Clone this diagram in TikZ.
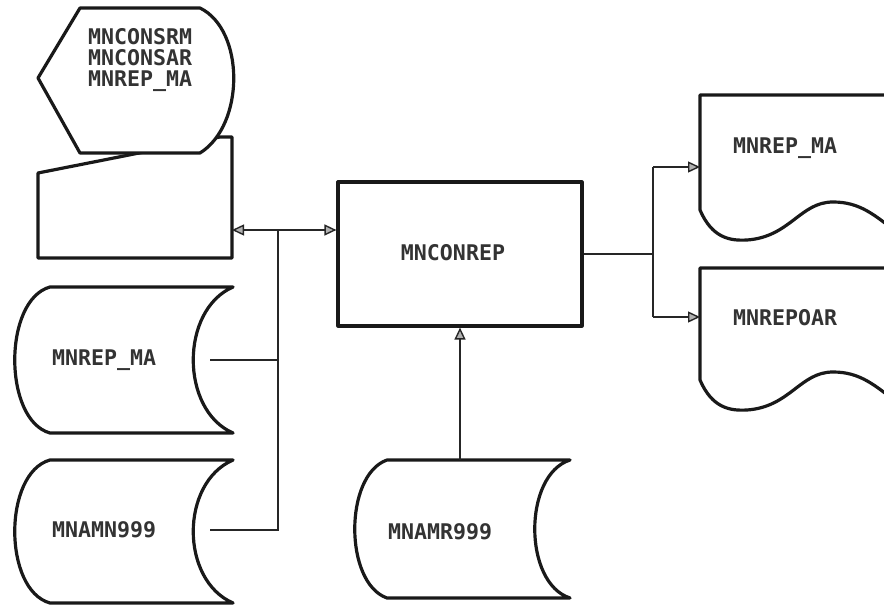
\documentclass[tikz,border=0pt]{standalone}
\usepackage{fontspec}
\setmonofont{DejaVu Sans Mono}
\usetikzlibrary{arrows.meta}
\begin{document}
\begin{tikzpicture}[x=1pt,y=-1pt,
  outl/.style={draw=black!90, line width=3.2pt, fill=white, line join=round},
  conn/.style={draw=black!85, line width=1.9pt},
  arr/.style={conn, -{Triangle[length=12pt,width=11pt,fill=gray!60,line width=1.4pt]}},
  lbl/.style={font=\fontsize{21.6}{21}\selectfont\ttfamily\bfseries, text=black!80, inner sep=0pt, align=left}]
\useasboundingbox (0,0) rectangle (884,607);
\clip (0,0) rectangle (884,607);

% manual input
\draw[outl] (38,173) -- (220,137) -- (232,137) -- (232,258) -- (38,258) -- cycle;
\coordinate (mi-e) at (232,230);

% display
\draw[outl] (80,8) -- (200,8) .. controls (245,30) and (245,125) .. (200,153) -- (80,153) -- (38,78) -- cycle;
\node[lbl, anchor=north west] (disp) at (88,28) {MNCONSRM\\MNCONSAR\\MNREP\_MA};

% stored data 1
\draw[outl] (233,287) -- (50,287) .. controls (3,300) and (3,420) .. (50,433) -- (233,433) .. controls (180,410) and (180,310) .. (233,287) -- cycle;
\node[lbl, anchor=west] (sd1) at (52,360) {MNREP\_MA};
\coordinate (sd1-e) at (210,360);

% stored data 2
\draw[outl] (233,460) -- (50,460) .. controls (3,473) and (3,590) .. (50,603) -- (233,603) .. controls (180,580) and (180,483) .. (233,460) -- cycle;
\node[lbl, anchor=west] (sd2) at (52,530) {MNAMN999};
\coordinate (sd2-e) at (210,530);

% process
\node[outl, minimum width=244pt, minimum height=144pt, inner sep=0pt] (proc) at (460,254) {};
\node[lbl] (proclbl) at (453,253) {MNCONREP};

% stored data 3
\draw[outl] (570,460) -- (387,460) .. controls (344,475) and (344,583) .. (387,598) -- (570,598) .. controls (523,583) and (523,475) .. (570,460) -- cycle;
\node[lbl, anchor=west] (sd3) at (388,532) {MNAMR999};
\coordinate (sd3-n) at (460,460);

% documents
\draw[outl] (900,95) -- (700,95) -- (700,210) .. controls (712,238) and (730,241) .. (747,240) .. controls (790,237) and (800,202) .. (833,202) .. controls (860,202) and (875,215) .. (900,235);
\node[lbl, anchor=west] (d1) at (733,148) {MNREP\_MA};
\coordinate (d1-w) at (700,167);

\draw[outl] (900,268) -- (700,268) -- (700,380) .. controls (712,408) and (730,411) .. (747,410) .. controls (790,407) and (800,372) .. (833,372) .. controls (860,372) and (875,385) .. (900,405);
\node[lbl, anchor=west] (d2) at (733,318) {MNREPOAR};
\coordinate (d2-w) at (700,317);

% connectors left
\coordinate (j1) at (278,230);
\draw[conn] (sd1-e) -- (sd1-e -| j1);
\draw[conn] (sd2-e) -- (sd2-e -| j1) -- (j1);
\draw[arr] (j1) -- (mi-e);
\draw[arr] (j1) -- (j1 -| proc.west);

% bottom
\draw[arr] (sd3-n) -- (proc.south);

% right
\coordinate (j2) at (653,254);
\coordinate (j3) at (653,167);
\coordinate (j4) at (653,317);
\draw[conn] (proc.east) -- (j2);
\draw[conn] (j3) -- (j4);
\draw[arr] (j3) -- (d1-w);
\draw[arr] (j4) -- (d2-w);
\end{tikzpicture}
\end{document}
